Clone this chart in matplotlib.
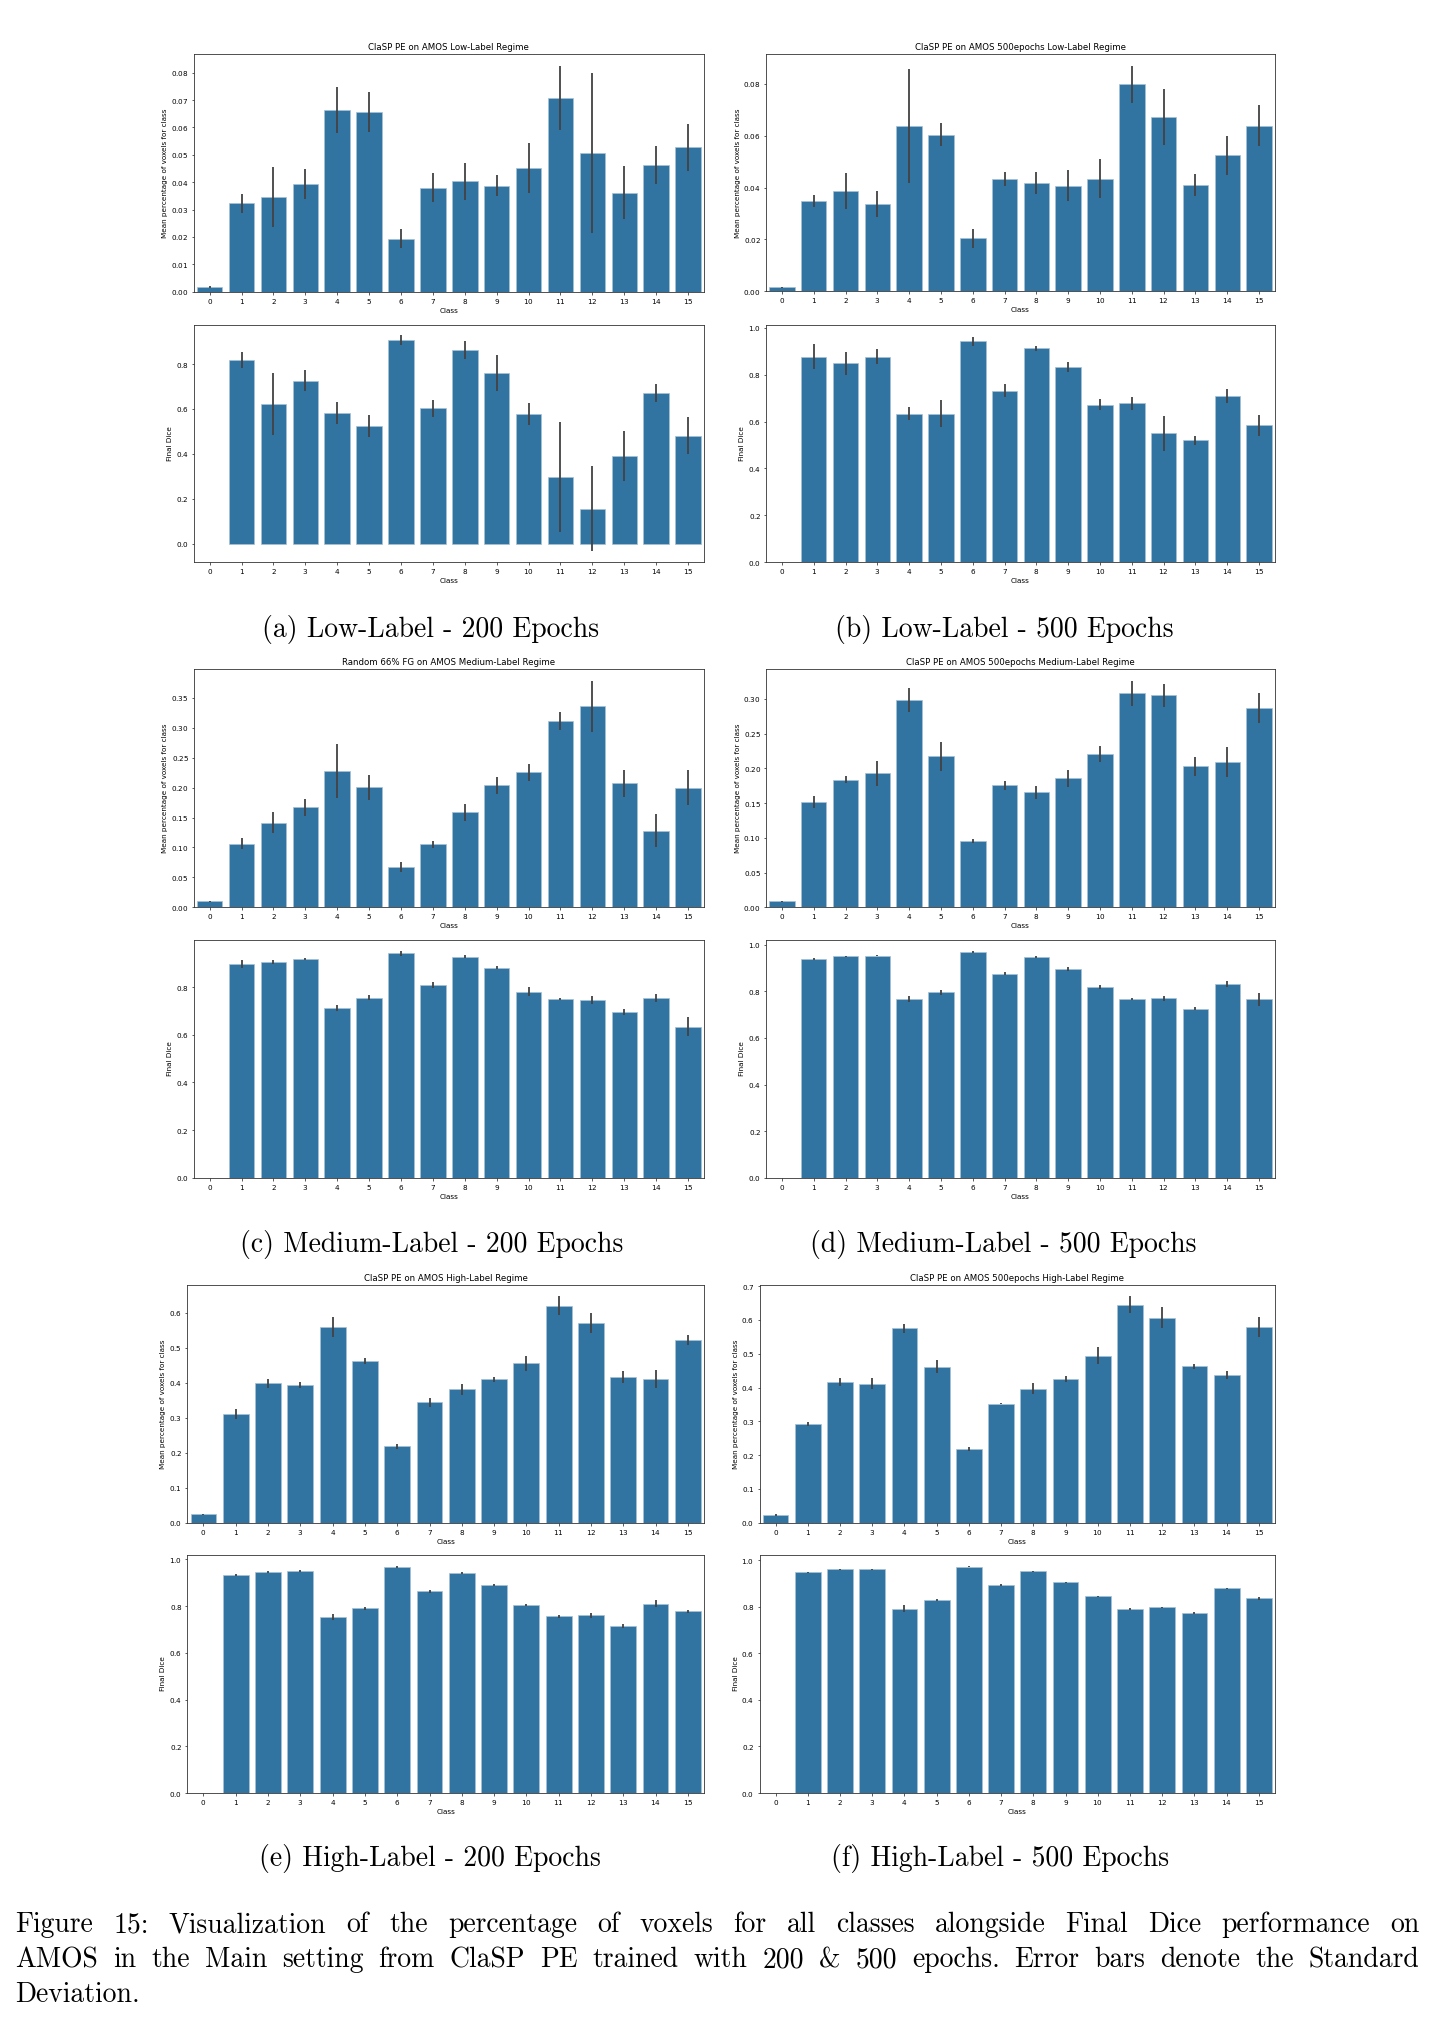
import numpy as np
import matplotlib.pyplot as plt

classes = list(range(16))
nan = np.nan

# (a) Low-Label, 200 epochs
low200_pct = [0.0016, 0.0323, 0.0347, 0.0394, 0.0664, 0.0658, 0.0194, 0.0379,
              0.0403, 0.0387, 0.0453, 0.0708, 0.0506, 0.0362, 0.0464, 0.0528]
low200_pct_sd = [0.0004, 0.0034, 0.0110, 0.0056, 0.0085, 0.0073, 0.0036, 0.0053,
                 0.0068, 0.0039, 0.0091, 0.0118, 0.0293, 0.0098, 0.0070, 0.0086]
low200_dice = [nan, 0.818, 0.623, 0.726, 0.580, 0.522, 0.906, 0.603,
               0.863, 0.759, 0.578, 0.296, 0.155, 0.390, 0.669, 0.480]
low200_dice_sd = [nan, 0.035, 0.139, 0.046, 0.049, 0.049, 0.021, 0.037,
                  0.041, 0.080, 0.049, 0.244, 0.190, 0.110, 0.040, 0.082]

# (b) Low-Label, 500 epochs
low500_pct = [0.0015, 0.0349, 0.0388, 0.0336, 0.0637, 0.0604, 0.0204, 0.0434,
              0.0417, 0.0408, 0.0434, 0.0799, 0.0672, 0.0410, 0.0524, 0.0639]
low500_pct_sd = [0.0003, 0.0024, 0.0069, 0.0051, 0.0219, 0.0044, 0.0038, 0.0027,
                 0.0043, 0.0059, 0.0076, 0.0072, 0.0109, 0.0042, 0.0076, 0.0080]
low500_dice = [nan, 0.877, 0.848, 0.877, 0.633, 0.633, 0.942, 0.732,
               0.913, 0.833, 0.672, 0.677, 0.549, 0.521, 0.709, 0.584]
low500_dice_sd = [nan, 0.052, 0.048, 0.033, 0.027, 0.058, 0.020, 0.027,
                  0.011, 0.020, 0.025, 0.026, 0.073, 0.019, 0.028, 0.045]

# (c) Medium-Label, 200 epochs
med200_pct = [0.0100, 0.1063, 0.1413, 0.1669, 0.2281, 0.2003, 0.0668, 0.1052,
              0.1586, 0.2042, 0.2254, 0.3116, 0.3361, 0.2070, 0.1280, 0.1998]
med200_pct_sd = [0.0010, 0.0097, 0.0172, 0.0147, 0.0454, 0.0211, 0.0081, 0.0053,
                 0.0139, 0.0142, 0.0139, 0.0150, 0.0426, 0.0231, 0.0275, 0.0289]
med200_dice = [nan, 0.896, 0.906, 0.917, 0.711, 0.755, 0.941, 0.807,
               0.928, 0.881, 0.781, 0.750, 0.746, 0.694, 0.754, 0.634]
med200_dice_sd = [nan, 0.016, 0.009, 0.005, 0.013, 0.011, 0.009, 0.013,
                  0.007, 0.007, 0.018, 0.004, 0.015, 0.012, 0.018, 0.040]

# (d) Medium-Label, 500 epochs
med500_pct = [0.0086, 0.1519, 0.1835, 0.1926, 0.2981, 0.2171, 0.0949, 0.1754,
              0.1653, 0.1855, 0.2209, 0.3077, 0.3048, 0.2027, 0.2094, 0.2866]
med500_pct_sd = [0.0010, 0.0089, 0.0053, 0.0180, 0.0168, 0.0206, 0.0029, 0.0069,
                 0.0089, 0.0122, 0.0115, 0.0184, 0.0163, 0.0141, 0.0213, 0.0216]
med500_dice = [nan, 0.940, 0.950, 0.954, 0.767, 0.797, 0.969, 0.876,
               0.947, 0.897, 0.819, 0.767, 0.770, 0.726, 0.833, 0.766]
med500_dice_sd = [nan, 0.004, 0.004, 0.003, 0.014, 0.011, 0.003, 0.007,
                  0.003, 0.008, 0.009, 0.006, 0.011, 0.008, 0.013, 0.029]

# (e) High-Label, 200 epochs
high200_pct = [0.0237, 0.3114, 0.3978, 0.3930, 0.5592, 0.4614, 0.2184, 0.3446,
               0.3807, 0.4092, 0.4548, 0.6200, 0.5706, 0.4168, 0.4111, 0.5212]
high200_pct_sd = [0.0020, 0.0147, 0.0133, 0.0095, 0.0275, 0.0095, 0.0071, 0.0128,
                  0.0166, 0.0071, 0.0223, 0.0266, 0.0294, 0.0176, 0.0252, 0.0142]
high200_dice = [nan, 0.933, 0.946, 0.951, 0.753, 0.790, 0.967, 0.863,
                0.942, 0.890, 0.806, 0.757, 0.760, 0.716, 0.810, 0.777]
high200_dice_sd = [nan, 0.005, 0.005, 0.004, 0.013, 0.006, 0.003, 0.006,
                   0.003, 0.005, 0.004, 0.006, 0.010, 0.008, 0.015, 0.007]

# (f) High-Label, 500 epochs
high500_pct = [0.0226, 0.2924, 0.4155, 0.4106, 0.5760, 0.4618, 0.2186, 0.3525,
               0.3968, 0.4253, 0.4942, 0.6449, 0.6065, 0.4627, 0.4371, 0.5789]
high500_pct_sd = [0.0020, 0.0059, 0.0113, 0.0162, 0.0133, 0.0187, 0.0059, 0.0020,
                  0.0158, 0.0079, 0.0251, 0.0251, 0.0305, 0.0079, 0.0128, 0.0290]
high500_dice = [nan, 0.947, 0.960, 0.961, 0.791, 0.828, 0.971, 0.894,
                0.951, 0.905, 0.844, 0.788, 0.797, 0.772, 0.878, 0.835]
high500_dice_sd = [nan, 0.003, 0.002, 0.002, 0.014, 0.005, 0.002, 0.004,
                   0.002, 0.002, 0.003, 0.004, 0.003, 0.003, 0.004, 0.005]

titles = ["ClaSP PE on AMOS Low-Label Regime",
          "ClaSP PE on AMOS 500epochs Low-Label Regime",
          "Random 66% FG on AMOS Medium-Label Regime",
          "ClaSP PE on AMOS 500epochs Medium-Label Regime",
          "ClaSP PE on AMOS High-Label Regime",
          "ClaSP PE on AMOS 500epochs High-Label Regime"]
subcaptions = ["(a) Low-Label - 200 Epochs", "(b) Low-Label - 500 Epochs",
               "(c) Medium-Label - 200 Epochs", "(d) Medium-Label - 500 Epochs",
               "(e) High-Label - 200 Epochs", "(f) High-Label - 500 Epochs"]
caption_lines = ["Figure 15:  Visualization of the percentage of voxels for all classes alongside Final Dice performance on",
                 "AMOS in the Main setting from ClaSP PE trained with 200 & 500 epochs. Error bars denote the Standard",
                 "Deviation."]

W, H = 1435, 2026
fig = plt.figure(figsize=(W / 100, H / 100), dpi=100)
cm = ['cmr10', 'DejaVu Serif']
plt.rcParams['axes.formatter.use_mathtext'] = True


def px_axes(l, r, t, b):
    return fig.add_axes([l / W, 1 - b / H, (r - l) / W, (b - t) / H])


def draw(ax, vals, sd, ylabel, title=None):
    ax.bar(classes, vals, width=0.8, color='#3274a1', edgecolor='#a7c1d6', linewidth=0.5,
           yerr=sd, error_kw=dict(ecolor='#424242', elinewidth=1.3, capsize=0))
    ax.set_xlim(-0.5, 15.5)
    ax.set_xticks(classes)
    ax.set_xlabel('Class', fontsize=5.2, labelpad=1.5)
    ax.set_ylabel(ylabel, fontsize=5.2, labelpad=2)
    ax.tick_params(labelsize=5.2, length=1.8, width=0.45, pad=1.8)
    for s in ax.spines.values():
        s.set_linewidth(0.6)
        s.set_color('#333333')
    if title:
        ax.set_title(title, fontsize=6.25, pad=3)


pct = [(low200_pct, low200_pct_sd), (low500_pct, low500_pct_sd),
       (med200_pct, med200_pct_sd), (med500_pct, med500_pct_sd),
       (high200_pct, high200_pct_sd), (high500_pct, high500_pct_sd)]
dice = [(low200_dice, low200_dice_sd), (low500_dice, low500_dice_sd),
        (med200_dice, med200_dice_sd), (med500_dice, med500_dice_sd),
        (high200_dice, high200_dice_sd), (high500_dice, high500_dice_sd)]

# pixel boxes: (left, right, top_of_upper, bottom_of_upper, top_of_lower, bottom_of_lower)
boxes = [(193.7, 704.0, 54.3, 291.7, 324.7, 562.3),
         (766.0, 1275.0, 54.3, 291.2, 325.3, 562.3),
         (193.7, 704.0, 669.3, 907.3, 940.0, 1177.7),
         (766.0, 1275.0, 669.3, 907.3, 940.0, 1177.7),
         (187.3, 704.0, 1285.0, 1522.7, 1555.0, 1793.0),
         (759.5, 1275.0, 1285.0, 1522.7, 1555.0, 1793.0)]
cap_pos = [(431, 629), (1004, 629), (432, 1244), (1003, 1244), (430, 1858), (1000, 1858)]

# caption font size: subcaption (a) is about 336 px wide in the reference
renderer = fig.canvas.get_renderer()
probe = fig.text(0, 0, subcaptions[0], fontsize=17, family=cm)
natural = probe.get_window_extent(renderer).width
probe.remove()
fs = 17 * 336 / natural

for i in range(6):
    l, r, t1, b1, t2, b2 = boxes[i]
    ax1 = px_axes(l, r, t1, b1)
    draw(ax1, pct[i][0], pct[i][1], 'Mean percentage of voxels for class', titles[i])
    ax2 = px_axes(l, r, t2, b2)
    draw(ax2, dice[i][0], dice[i][1], 'Final Dice')
    fig.text(cap_pos[i][0] / W, 1 - cap_pos[i][1] / H, subcaptions[i],
             ha='center', va='center', fontsize=fs, family=cm)

# justified figure caption
baselines = [1932, 1967, 2002]
for k, line in enumerate(caption_lines):
    words = line.split()
    ts = [fig.text(0, 1 - baselines[k] / H, w, fontsize=fs, family=cm, va='baseline')
          for w in words]
    widths = [t.get_window_extent(renderer).width for t in ts]
    if k < 2:
        gap = (1419.5 - 15.5 - sum(widths)) / (len(words) - 1)
    else:
        gap = 8
    x = 15.5
    for t, w in zip(ts, widths):
        t.set_x(x / W)
        x += w + gap

fig.savefig('out.png', dpi=100)
